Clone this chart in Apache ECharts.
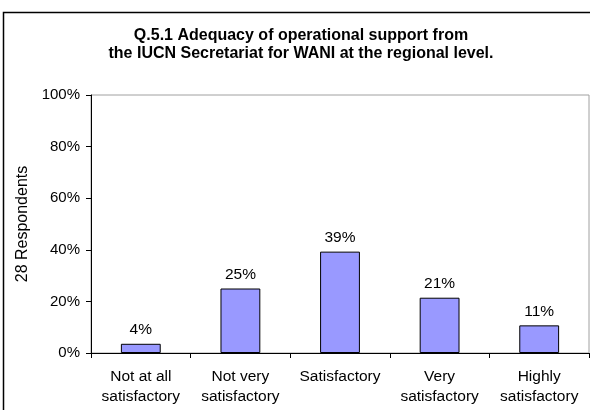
<!DOCTYPE html>
<html>
<head>
<meta charset="utf-8">
<script src="https://cdn.jsdelivr.net/npm/echarts@6/dist/echarts.min.js"></script>
<style>
html,body{margin:0;padding:0;background:#fff;}
#chart{width:590px;height:410px;}
</style>
</head>
<body>
<div id="chart"></div>
<script>
const titleText = 'Q.5.1 Adequacy of operational support from\nthe IUCN Secretariat for WANI at the regional level.';
const categories = ['Not at all\nsatisfactory', 'Not very\nsatisfactory', 'Satisfactory', 'Very\nsatisfactory', 'Highly\nsatisfactory'];
const values = [3.57, 25.0, 39.29, 21.43, 10.71];
const valueLabels = ['4%', '25%', '39%', '21%', '11%'];
const yAxisName = '28 Respondents';

const FONT = '"Liberation Sans", Arial, sans-serif';
const chart = echarts.init(document.getElementById('chart'), null, {renderer: 'canvas'});
chart.setOption({
  animation: false,
  backgroundColor: '#ffffff',
  title: {
    text: titleText,
    left: 296, top: 22, textAlign: 'center',
    textStyle: {fontFamily: FONT, fontSize: 16, fontWeight: 'bold', color: '#000', lineHeight: 18}
  },
  graphic: [{
    type: 'rect', shape: {x: 3.5, y: 12.5, width: 600, height: 420},
    style: {fill: null, stroke: '#000', lineWidth: 1.5}, silent: true, z: 100
  }],
  grid: {
    left: 91, right: 1, top: 95, bottom: 57,
    show: true, borderColor: '#a0a0a0', borderWidth: 1, backgroundColor: 'transparent'
  },
  xAxis: {
    type: 'category', data: categories,
    axisLine: {lineStyle: {color: '#000', width: 1}},
    axisTick: {show: true, length: 5, alignWithLabel: false, lineStyle: {color: '#000'}},
    axisLabel: {interval: 0, margin: 14, fontFamily: FONT, fontSize: 15.5, color: '#000', lineHeight: 20}
  },
  yAxis: {
    type: 'value', min: 0, max: 100, interval: 20,
    name: yAxisName, nameLocation: 'middle', nameGap: 55, nameRotate: 90,
    nameTextStyle: {fontFamily: FONT, fontSize: 16, color: '#000'},
    axisLine: {show: true, lineStyle: {color: '#000', width: 1}},
    axisTick: {show: true, length: 5, lineStyle: {color: '#000'}},
    splitLine: {show: false},
    axisLabel: {margin: 11, fontFamily: FONT, fontSize: 15, color: '#000', formatter: v => v + '%'}
  },
  series: [{
    type: 'bar', data: values, barWidth: '40%',
    itemStyle: {color: '#9999ff', borderColor: '#000', borderWidth: 1},
    label: {
      show: true, position: 'top', distance: 6,
      fontFamily: FONT, fontSize: 15.5, color: '#000',
      formatter: p => valueLabels[p.dataIndex]
    }
  }]
});
</script>
</body>
</html>
